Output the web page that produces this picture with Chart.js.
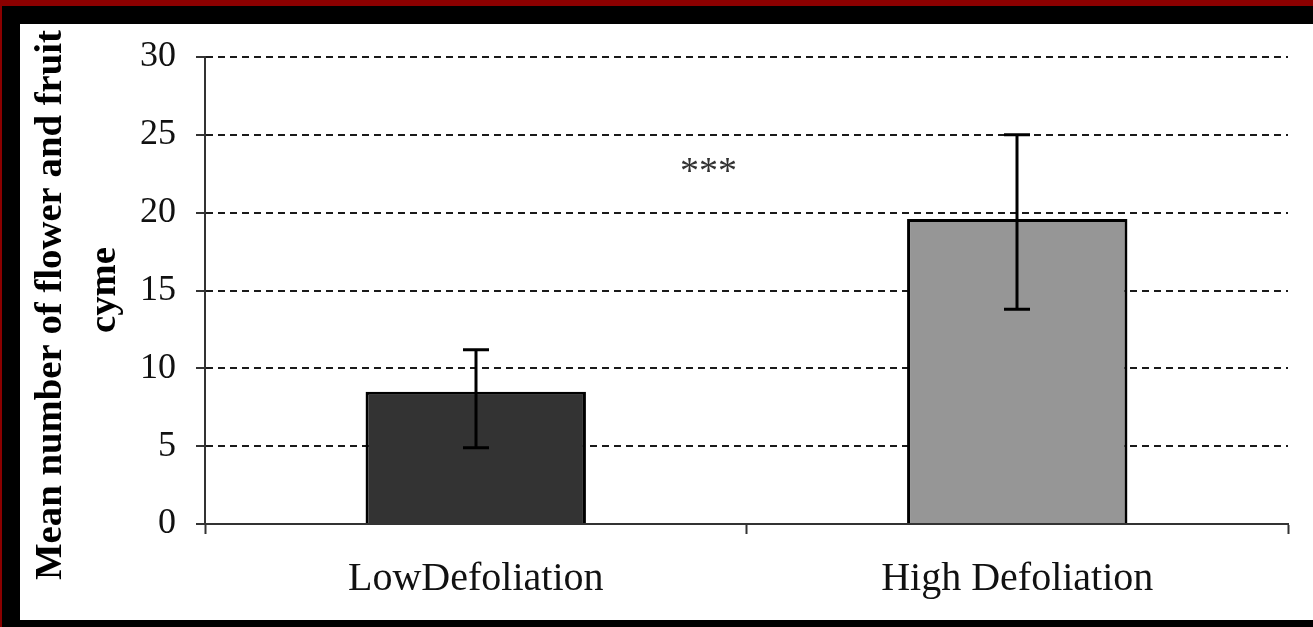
<!DOCTYPE html>
<html>
<head>
<meta charset="utf-8">
<script src="https://cdn.jsdelivr.net/npm/chart.js@4/dist/chart.umd.min.js"></script>
<style>
  html, body { margin: 0; padding: 0; background: #000; }
  canvas { display: block; }
</style>
</head>
<body>
<canvas id="chart" width="1313" height="627"></canvas>
<script>
// Category names and bar values
const categories = ['LowDefoliation', 'High Defoliation'];
const means = [8.5, 19.6];
// Error bar extents (upper and lower ends)
const errUpper = [11.2, 25.0];
const errLower = [4.9, 13.8];
const barColors = ['#333333', '#969696'];
// Y axis range and step
const yMin = 0;
const yMax = 30;
const yStep = 5;
// Axis title lines and significance marker
const yTitleLines = ['Mean number of flower and fruit', 'cyme'];
const significance = '***';
const significanceAt = { index: 0.43, value: 21.9 };

const SERIF = "'Liberation Serif', 'Times New Roman', serif";

// Framed background: red edge, black border, white panel
const framePlugin = {
  id: 'frame',
  beforeDraw(chart) {
    const ctx = chart.ctx;
    ctx.save();
    ctx.fillStyle = '#8b0000';
    ctx.fillRect(0, 0, chart.width, chart.height);
    ctx.fillStyle = '#000000';
    ctx.fillRect(2, 6, chart.width - 2, chart.height - 6);
    ctx.fillStyle = '#ffffff';
    ctx.fillRect(20, 24, chart.width - 20, 596);
    ctx.restore();
  }
};

// Vertical error bars with caps
const errorBarPlugin = {
  id: 'errorBars',
  afterDatasetsDraw(chart) {
    const ctx = chart.ctx;
    const y = chart.scales.y;
    const meta = chart.getDatasetMeta(0);
    ctx.save();
    ctx.strokeStyle = '#000000';
    ctx.lineWidth = 3;
    const cap = 13;
    meta.data.forEach((bar, i) => {
      const x = Math.round(bar.x);
      const yt = y.getPixelForValue(errUpper[i]);
      const yb = y.getPixelForValue(errLower[i]);
      ctx.beginPath();
      ctx.moveTo(x, yt);
      ctx.lineTo(x, yb);
      ctx.moveTo(x - cap, yt);
      ctx.lineTo(x + cap, yt);
      ctx.moveTo(x - cap, yb);
      ctx.lineTo(x + cap, yb);
      ctx.stroke();
    });
    ctx.restore();
  }
};

// Rotated two-line y axis title and the significance marker
const labelsPlugin = {
  id: 'labels',
  afterDraw(chart) {
    const ctx = chart.ctx;
    ctx.save();
    ctx.fillStyle = '#000000';
    ctx.font = 'bold 38px ' + SERIF;
    const w1 = ctx.measureText(yTitleLines[0]).width;
    const k = 550 / w1;
    ctx.textAlign = 'center';
    ctx.textBaseline = 'alphabetic';

    ctx.save();
    ctx.translate(61, 305);
    ctx.rotate(-Math.PI / 2);
    ctx.scale(k, 1);
    ctx.fillText(yTitleLines[0], 0, 0);
    ctx.restore();

    ctx.save();
    ctx.translate(115, 290);
    ctx.rotate(-Math.PI / 2);
    ctx.scale(k, 1);
    ctx.fillText(yTitleLines[1], 0, 0);
    ctx.restore();

    const xs = chart.scales.x, ys = chart.scales.y;
    ctx.fillStyle = '#333333';
    ctx.font = '38px ' + SERIF;
    ctx.fillText(significance,
      xs.getPixelForValue(significanceAt.index),
      ys.getPixelForValue(significanceAt.value));
    ctx.restore();
  }
};

new Chart(document.getElementById('chart'), {
  type: 'bar',
  data: {
    labels: categories,
    datasets: [{
      data: means,
      backgroundColor: barColors,
      borderColor: '#000000',
      borderWidth: 3,
      borderSkipped: 'start',
      categoryPercentage: 1.0,
      barPercentage: 0.407
    }]
  },
  options: {
    responsive: false,
    devicePixelRatio: 1,
    animation: false,
    layout: { padding: { top: 57, right: 25, left: 0, bottom: 0 } },
    plugins: {
      legend: { display: false },
      tooltip: { enabled: false }
    },
    scales: {
      x: {
        offset: true,
        grid: {
          offset: true,
          drawOnChartArea: false,
          drawTicks: true,
          tickLength: 10,
          tickColor: '#333333',
          tickWidth: 2
        },
        border: { display: true, color: '#333333', width: 2 },
        ticks: {
          color: '#111111',
          font: { family: SERIF, size: 40 },
          padding: 21,
          maxRotation: 0,
          autoSkip: false
        },
        afterFit(scale) { scale.height = 103; }
      },
      y: {
        min: yMin,
        max: yMax,
        grid: {
          color: '#1a1a1a',
          lineWidth: 2,
          drawTicks: true,
          tickLength: 9,
          tickColor: '#333333',
          tickWidth: 2,
          tickBorderDash: []
        },
        border: { display: true, color: '#333333', width: 2, dash: [7, 5] },
        ticks: {
          stepSize: yStep,
          color: '#111111',
          font: { family: SERIF, size: 36 },
          padding: 20
        },
        afterFit(scale) { scale.width = 205; }
      }
    }
  },
  plugins: [framePlugin, errorBarPlugin, labelsPlugin]
});
</script>
</body>
</html>
